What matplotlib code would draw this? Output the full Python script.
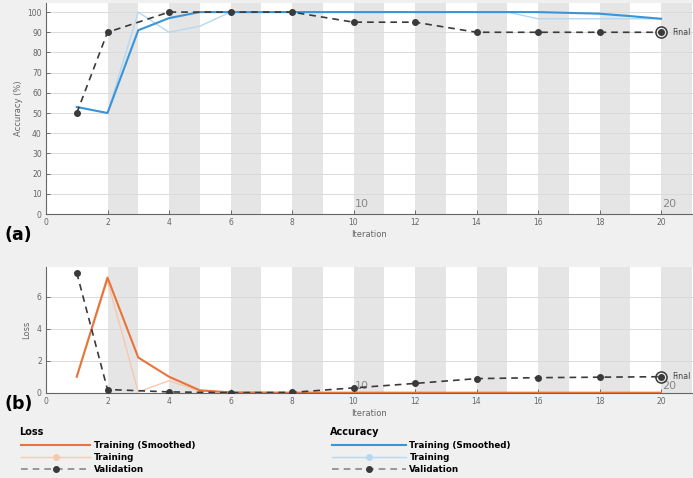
import numpy as np
import matplotlib
matplotlib.use('Agg')
import matplotlib.pyplot as plt
from matplotlib.lines import Line2D

# data
iters = np.arange(1, 21)
acc_smooth = [53, 50, 91, 97, 100, 100, 100, 100, 100, 100,
              100, 100, 100, 100, 100, 100, 99.6, 99.2, 98, 96.7]
acc_train = [53, 50, 100, 90, 93, 100, 100, 100, 100, 100,
             100, 100, 100, 100, 100, 96.7, 96.7, 96.7, 96.7, 96.7]
val_iters = [1, 2, 4, 6, 8, 10, 12, 14, 16, 18, 20]
acc_val = [50, 90, 100, 100, 100, 95, 95, 90, 90, 90, 90]

loss_smooth = [1.0, 7.2, 2.2, 1.0, 0.15, 0.02, 0.01, 0, 0, 0,
               0, 0, 0, 0, 0, 0, 0, 0, 0, 0]
loss_train = [1.0, 7.0, 0.05, 0.75, 0.1, 0, 0, 0, 0, 0,
              0, 0, 0, 0, 0, 0, 0, 0, 0, 0]
loss_val = [7.5, 0.2, 0.05, 0.0, 0.02, 0.3, 0.58, 0.88, 0.94, 0.97, 1.0]

epoch_marks = [10, 20]
legend_labels = ['Training (Smoothed)', 'Training', 'Validation']

BG = '#f0f0f0'
ORANGE = '#e8743b'
ORANGE_L = '#f6c8ae'
BLUE = '#3a94d8'
BLUE_L = '#b6d8f0'
DARK = '#3a3a3a'
TXT = '#666666'

W, H = 693, 478
fig = plt.figure(figsize=(W/100, H/100), dpi=100, facecolor=BG)
plt.rcParams['font.family'] = 'DejaVu Sans'

def make_ax(top, bottom, ymax, yticks):
    ax = fig.add_axes([46/W, 1-bottom/H, (W-46)/W, (bottom-top)/H])
    ax.set_xlim(0, 21.04)
    ax.set_ylim(0, ymax)
    for k in range(2, 22, 2):
        ax.axvspan(k, k+1, color='#e5e5e5', lw=0, zorder=0.8)
    ax.set_axisbelow('line')
    ax.grid(axis='y', color='#dadada', lw=0.7)
    ax.set_xticks(range(0, 21, 2))
    ax.set_yticks(yticks)
    ax.tick_params(direction='in', length=3, width=0.6, color='#555555',
                   labelsize=5.5, labelcolor=TXT, pad=3)
    for s in ['top', 'right']:
        ax.spines[s].set_visible(False)
    for s in ['left', 'bottom']:
        ax.spines[s].set_color('#666666')
        ax.spines[s].set_linewidth(0.8)
    ax.set_xlabel('Iteration', fontsize=6, color=TXT, labelpad=2)
    return ax

# (a) accuracy
ax1 = make_ax(3, 214, 104.5, range(0, 101, 10))
ax1.set_ylabel('Accuracy (%)', fontsize=6, color=TXT, labelpad=3)
ax1.plot(iters, acc_train, color=BLUE_L, lw=1.0, zorder=2)
ax1.plot(iters, acc_smooth, color=BLUE, lw=1.5, zorder=3)
ax1.plot(val_iters, acc_val, color=DARK, lw=1.2, dashes=(4, 3),
         marker='o', ms=4, zorder=4)
ax1.plot(val_iters[-1], acc_val[-1], 'o', mfc='none', mec=DARK, ms=8, mew=1.1, zorder=5)
ax1.text(val_iters[-1] + 0.35, acc_val[-1], 'Final', fontsize=5.8, color='#444444',
         va='center', ha='left')
for e in epoch_marks:
    ax1.text(e + 0.05, 2.5, str(e), fontsize=8, color='#888888', ha='left', va='bottom')

# (b) loss
ax2 = make_ax(267, 392.7, 7.86, [0, 2, 4, 6])
ax2.set_ylabel('Loss', fontsize=6, color=TXT, labelpad=4)
ax2.plot(iters, loss_train, color=ORANGE_L, lw=1.0, zorder=2)
ax2.plot(iters, loss_smooth, color=ORANGE, lw=1.5, zorder=3)
ax2.plot(val_iters, loss_val, color=DARK, lw=1.2, dashes=(4, 3),
         marker='o', ms=4, zorder=4)
ax2.plot(val_iters[-1], loss_val[-1], 'o', mfc='none', mec=DARK, ms=8, mew=1.1, zorder=5)
ax2.text(val_iters[-1] + 0.35, loss_val[-1], 'Final', fontsize=5.8, color='#444444',
         va='center', ha='left')
for e in epoch_marks:
    ax2.text(e + 0.05, 0.12, str(e), fontsize=8, color='#888888', ha='left', va='bottom')

fig.text(4/W, 1-235/H, '(a)', fontsize=12.5, fontweight='bold', va='center', ha='left')
fig.text(4/W, 1-404/H, '(b)', fontsize=12.5, fontweight='bold', va='center', ha='left')

# legends
def legend_block(x, title, c_s, c_l, hlen):
    fig.text((x - 2)/W, 1-432/H, title, fontsize=7, fontweight='bold',
             va='center', ha='left')
    hs = [Line2D([], [], color=c_s, lw=1.5),
          Line2D([], [], color=c_l, lw=1.0, marker='o', ms=4),
          Line2D([], [], color='#888888', lw=1.2, dashes=(4, 3),
                 marker='o', ms=4, mfc=DARK, mec=DARK)]
    fig.legend(hs, legend_labels,
               loc='upper left', bbox_to_anchor=(x/W, 1-441/H),
               frameon=False, prop={'size': 6.3, 'weight': 'bold'},
               handlelength=hlen, handletextpad=0.45, labelspacing=0.32,
               borderpad=0, borderaxespad=0, numpoints=1)

legend_block(21, 'Loss', ORANGE, ORANGE_L, 7.9)
legend_block(332, 'Accuracy', BLUE, BLUE_L, 8.4)

fig.savefig('out.png', dpi=100, facecolor=BG)
